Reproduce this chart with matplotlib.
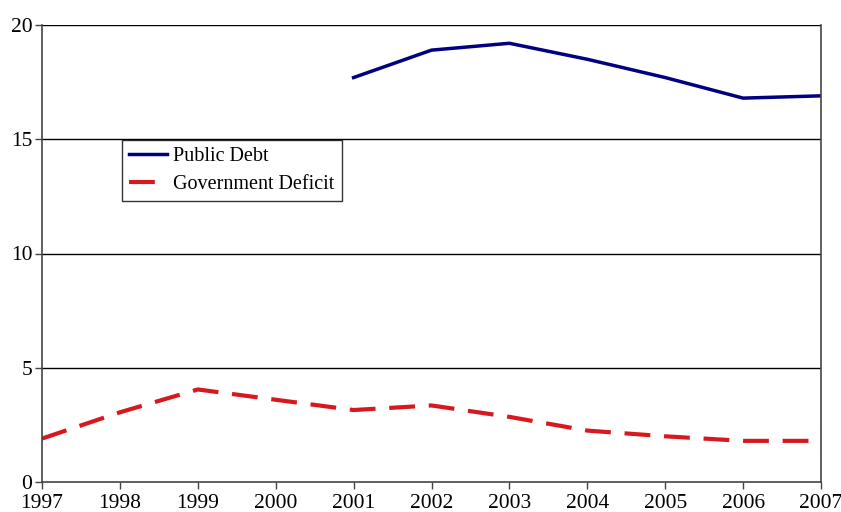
import matplotlib.pyplot as plt

years = [1997, 1998, 1999, 2000, 2001, 2002, 2003, 2004, 2005, 2006, 2007]
debt_years = [2001, 2002, 2003, 2004, 2005, 2006, 2007]
public_debt = [17.7, 18.9, 19.2, 18.5, 17.7, 16.8, 16.9]
gov_deficit = [1.9, 3.05, 4.05, 3.6, 3.15, 3.35, 2.85, 2.25, 2.0, 1.8, 1.8]

plt.rcParams['font.family'] = ['Liberation Serif', 'DejaVu Serif']

fig = plt.figure(figsize=(8.41, 5.12), dpi=100)
ax = fig.add_axes([42 / 841, 30 / 512, 779 / 841, 457 / 512])

ax.plot(debt_years, public_debt, color='#000080', lw=2.5, label='Public Debt')
ax.plot(years, gov_deficit, color='#d7191f', lw=3.0, dashes=(6.2, 3.3),
        label='Government Deficit')

ax.set_xlim(1997, 2007)
ax.set_ylim(0, 20)
ax.set_xticks(years)
ax.set_yticks([0, 5, 10, 15, 20])
for y in [5, 10, 15, 20]:
    ax.axhline(y, color='black', lw=1.0, zorder=0)

ax.spines['top'].set_visible(False)
for s in ['left', 'bottom', 'right']:
    ax.spines[s].set_color('#444444')
    ax.spines[s].set_linewidth(1.2)
ax.tick_params(axis='both', direction='out', length=5, width=1, colors='#444444',
               labelcolor='black', labelsize=15.5)
ax.tick_params(axis='x', pad=4)
ax.tick_params(axis='y', pad=2)

leg = ax.legend(loc='upper left', bbox_to_anchor=(80 / 779, 342 / 457),
                fontsize=14.5, frameon=True, fancybox=False, handlelength=1.9,
                handletextpad=0.3, borderpad=0.35, labelspacing=0.45, borderaxespad=0)
leg.get_frame().set_edgecolor('black')
leg.get_frame().set_linewidth(1.0)

fig.savefig('out.png', dpi=100)
